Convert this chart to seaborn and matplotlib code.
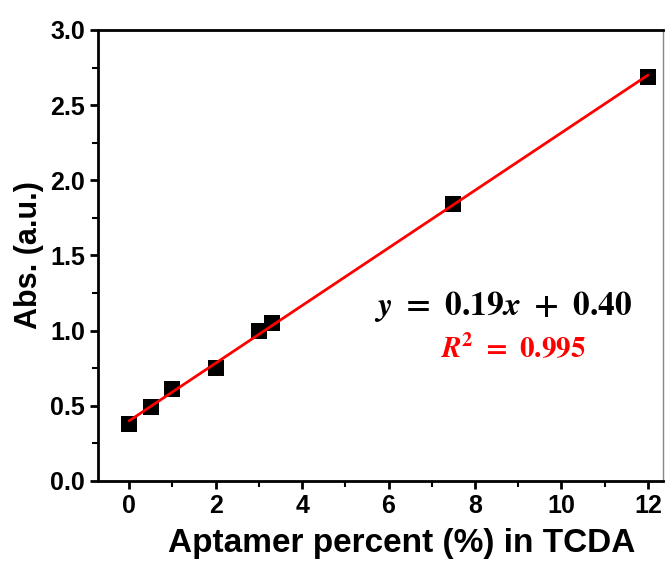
import numpy as np
import pandas as pd
import matplotlib
matplotlib.use("Agg")
import matplotlib.pyplot as plt
import seaborn as sns
from matplotlib.ticker import MultipleLocator

aptamer_pct = [0, 0.5, 1, 2, 3, 3.3, 7.5, 12]
absorbance = [0.38, 0.49, 0.61, 0.75, 1.00, 1.05, 1.84, 2.69]

df = pd.DataFrame({"pct": aptamer_pct, "abs": absorbance})

sns.set_theme(style="ticks")
plt.rcParams["font.family"] = ["Liberation Sans", "DejaVu Sans"]
plt.rcParams["font.weight"] = "bold"
plt.rcParams["mathtext.fontset"] = "stix"
plt.rcParams["text.color"] = "black"
plt.rcParams["axes.labelcolor"] = "black"
plt.rcParams["xtick.color"] = "black"
plt.rcParams["ytick.color"] = "black"

fig = plt.figure(figsize=(6.67, 5.71), dpi=100)
ax = fig.add_axes([0.147, 0.158, 0.847, 0.7895])

sns.regplot(data=df, x="pct", y="abs", ax=ax, ci=None, truncate=True,
            marker="s",
            scatter_kws={"s": 120, "color": "black", "alpha": 1, "zorder": 2, "linewidths": 0},
            line_kws={"color": "red", "lw": 2, "zorder": 3})

ax.set_xlim(-0.72, 12.35)
ax.set_ylim(0, 3.0)
ax.xaxis.set_major_locator(MultipleLocator(2))
ax.xaxis.set_minor_locator(MultipleLocator(1))
ax.yaxis.set_major_locator(MultipleLocator(0.5))
ax.yaxis.set_minor_locator(MultipleLocator(0.25))
ax.yaxis.set_major_formatter(matplotlib.ticker.FormatStrFormatter("%.1f"))

ax.tick_params(which="major", direction="out", length=6, width=2, labelsize=18)
ax.tick_params(which="minor", direction="out", length=4, width=1.5)
for lab in ax.get_xticklabels() + ax.get_yticklabels():
    lab.set_fontweight("bold")

for side in ["left", "bottom", "top"]:
    ax.spines[side].set_linewidth(2)
    ax.spines[side].set_color("black")
ax.spines["right"].set_linewidth(1)
ax.spines["right"].set_color("#888888")

ax.set_xlabel("Aptamer percent (%) in TCDA", fontsize=24, fontweight="bold")
ax.xaxis.set_label_coords(0.537, -0.105)
ax.set_ylabel("Abs. (a.u.)", fontsize=22, fontweight="bold", labelpad=4)

ax.text(0.717, 0.386, r"$\mathbfit{y}\ =\ \mathbf{0.19}\mathbfit{x}\ +\ \mathbf{0.40}$",
        transform=ax.transAxes, fontsize=24, ha="center", va="center", color="black")
ax.text(0.736, 0.295, r"$\mathbfit{R}^\mathbf{2}\ =\ \mathbf{0.995}$",
        transform=ax.transAxes, fontsize=21, ha="center", va="center", color="red")

fig.savefig("out.png", dpi=100)
